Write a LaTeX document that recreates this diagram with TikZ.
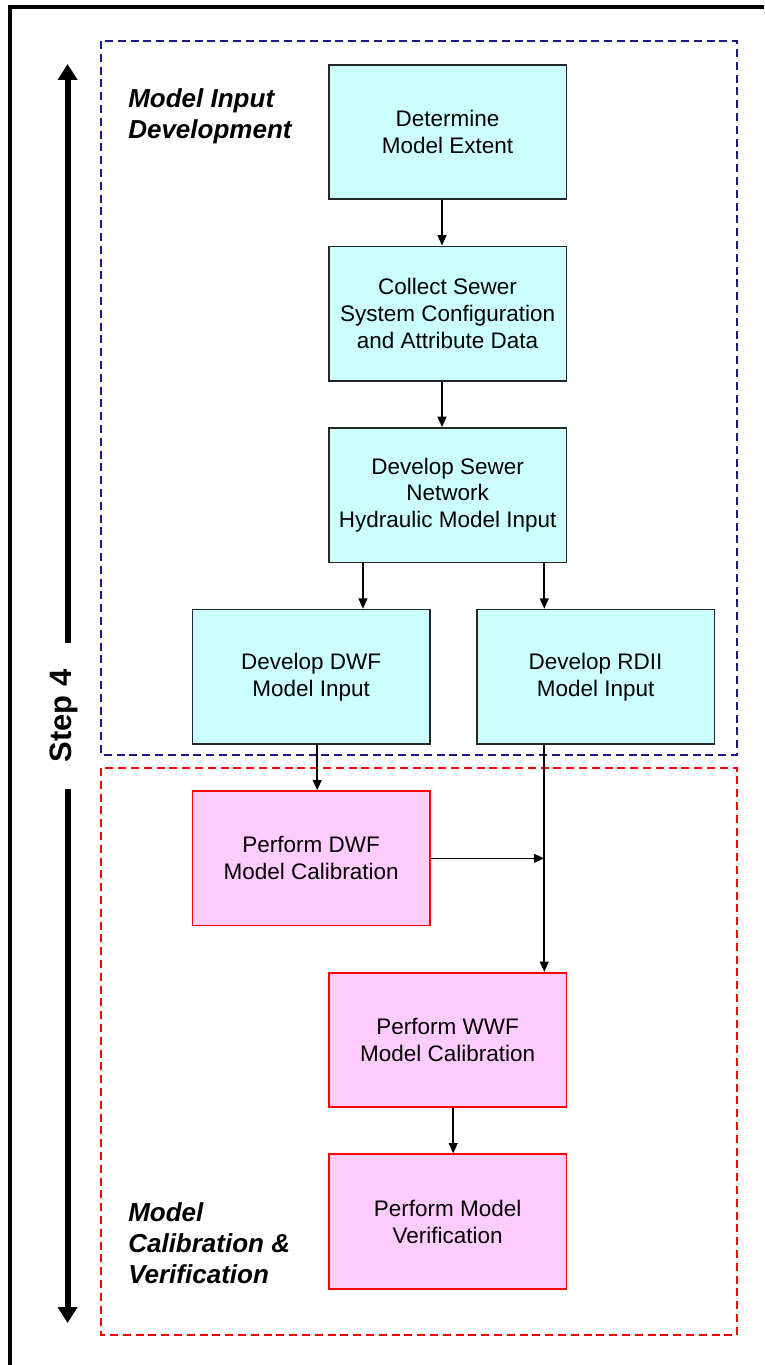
\documentclass[tikz,border=0pt]{standalone}
\usepackage{fontspec}
\setmainfont{Liberation Sans}
\usepackage{tikz}
\usetikzlibrary{arrows.meta, positioning, calc}
\definecolor{inputfill}{HTML}{CCFFFF}
\definecolor{calibfill}{HTML}{FFCCFF}
\definecolor{navyline}{HTML}{1A1A80}

\begin{document}
\begin{tikzpicture}[
    inputbox/.style={draw=black!85, line width=1.2pt, fill=inputfill, minimum width=5.94cm, minimum height=3.36cm, align=center, font=\fontsize{16}{19.2}\selectfont},
    calibbox/.style={draw=red, line width=1.2pt, fill=calibfill, minimum width=5.94cm, minimum height=3.36cm, align=center, font=\fontsize{16}{19.2}\selectfont},
    flow/.style={-{Triangle[length=0.26cm, width=0.22cm]}, line width=1.2pt},
    phaselabel/.style={anchor=north west, inner sep=0, align=left, font=\fontsize{18.5}{22.3}\selectfont\bfseries\itshape},
    steparrow/.style={-{Triangle[length=0.4cm, width=0.475cm]}, line width=0.15cm}
]
\useasboundingbox (0,0) rectangle (19.1,-34.125);

% Outer frame
\draw[line width=0.11cm] (0.25,-34.125) |- (19.1,-0.175);

% Phase boxes
\draw[navyline, line width=1pt, dash pattern=on 0.2cm off 0.12cm] (2.525,-1.025) rectangle (18.425,-18.875);
\draw[red, line width=1pt, dash pattern=on 0.2cm off 0.12cm] (2.525,-19.2) rectangle (18.425,-33.375);
\node[phaselabel] (inlabel) at (3.2,-2.2) {Model Input\\Development};
\node[phaselabel] (callabel) at (3.2,-30.05) {Model\\Calibration \&\\Verification};

% Step 4 arrow
\coordinate (steptop) at (1.69,-1.6);
\coordinate (stepbot) at (1.69,-33.075);
\node[rotate=90, inner xsep=0.65cm, font=\fontsize{22}{26}\selectfont\bfseries] (steplabel) at (1.6,-17.9) {Step 4};
\draw[steparrow] (steptop |- steplabel.east) -- (steptop);
\draw[steparrow] (stepbot |- steplabel.west) -- (stepbot);

% Model input development
\node[inputbox] (extent) at (11.19,-3.3) {Determine\\Model Extent};
\node[inputbox, below=1.1375cm of extent] (collect) {Collect Sewer\\System Configuration\\and Attribute Data};
\node[inputbox, below=1.1375cm of collect] (network) {Develop Sewer\\Network\\Hydraulic Model Input};
\node[inputbox, below=1.1375cm of network, xshift=-3.41cm] (dwfin) {Develop DWF\\Model Input};
\node[inputbox, below=1.1375cm of network, xshift=3.7cm] (rdiiin) {Develop RDII\\Model Input};

% Model calibration and verification
\node[calibbox, below=1.1375cm of dwfin] (dwfcal) {Perform DWF\\Model Calibration};
\node[calibbox, below=1.1375cm of $(dwfcal.south -| network.south)$] (wwfcal) {Perform WWF\\Model Calibration};
\node[calibbox, below=1.1375cm of wwfcal] (verify) {Perform Model\\Verification};

% Connections
\coordinate (wline) at ([xshift=-0.575cm]network.south east);
\draw[flow] ([xshift=-0.14cm]extent.south) -- ([xshift=-0.14cm]collect.north);
\draw[flow] ([xshift=-0.14cm]collect.south) -- ([xshift=-0.14cm]network.north);
\draw[flow] ([xshift=0.875cm]network.south west) -- ([xshift=0.875cm]network.south west |- dwfin.north);
\draw[flow] (wline) -- (wline |- rdiiin.north);
\draw[flow] ([xshift=0.15cm]dwfin.south) -- ([xshift=0.15cm]dwfcal.north);
\draw[flow] (wline |- rdiiin.south) -- (wline |- wwfcal.north);
\draw[flow] (dwfcal.east) -- (dwfcal.east -| wline);
\draw[flow] ([xshift=0.14cm]wwfcal.south) -- ([xshift=0.14cm]verify.north);
\end{tikzpicture}
\end{document}
